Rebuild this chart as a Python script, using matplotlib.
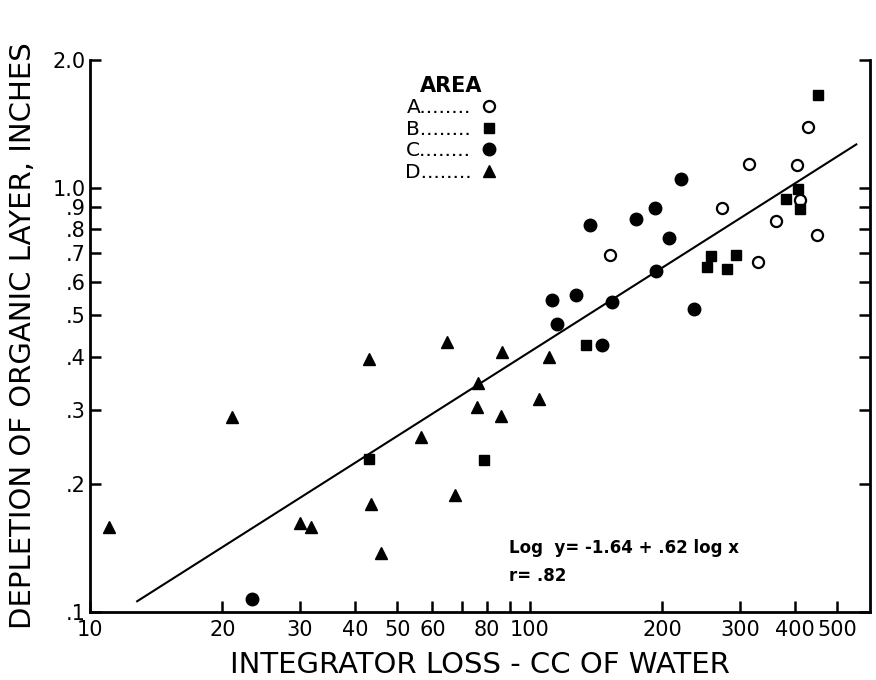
import matplotlib
matplotlib.use('Agg')
import matplotlib.pyplot as plt
from matplotlib.ticker import FixedLocator, FixedFormatter, NullLocator

# area A (open circles)
a_x = [428, 315, 405, 274, 411, 362, 449, 152, 330]
a_y = [1.39, 1.14, 1.13, 0.895, 0.937, 0.836, 0.774, 0.694, 0.668]
# area B (squares)
b_x = [451, 407, 383, 412, 258, 252, 294, 281, 134, 43.1, 78.8]
b_y = [1.65, 0.993, 0.943, 0.890, 0.690, 0.652, 0.694, 0.643, 0.425, 0.229, 0.228]
# area C (filled circles)
c_x = [220, 192, 174, 137, 207, 193, 112, 127, 154, 115, 236, 146, 23.4]
c_y = [1.046, 0.895, 0.843, 0.817, 0.762, 0.637, 0.544, 0.560, 0.537, 0.478, 0.519, 0.425, 0.1075]
# area D (triangles)
d_x = [64.9, 43.1, 86.4, 110.5, 76.3, 104.6, 75.9, 85.9, 21.0, 56.6, 67.5, 43.5, 30.0, 31.8, 11.07, 45.9]
d_y = [0.433, 0.395, 0.411, 0.398, 0.347, 0.317, 0.305, 0.289, 0.288, 0.259, 0.189, 0.180, 0.162, 0.159, 0.159, 0.138]

# fitted line as drawn
line_x = [12.8, 552]
line_y = [0.106, 1.265]

xticks = [10, 20, 30, 40, 50, 60, 70, 80, 90, 100, 200, 300, 400, 500]
xlabels = ['10', '20', '30', '40', '50', '60', '', '80', '', '100', '200', '300', '400', '500']
yticks = [0.1, 0.2, 0.3, 0.4, 0.5, 0.6, 0.7, 0.8, 0.9, 1.0, 2.0]
ylabels = ['.1', '.2', '.3', '.4', '.5', '.6', '.7', '.8', '.9', '1.0', '2.0']

fig = plt.figure(figsize=(8.76, 6.8), dpi=100)
ax = fig.add_axes([90 / 876, 68 / 680, 780 / 876, 552 / 680])

ax.plot(line_x, line_y, color='black', lw=1.5, zorder=2)
ax.plot(a_x, a_y, 'o', ls='none', mfc='white', mec='black', mew=1.6, ms=8, label='A........', zorder=3)
ax.plot(b_x, b_y, 's', ls='none', color='black', ms=7.5, label='B........', zorder=3)
ax.plot(c_x, c_y, 'o', ls='none', color='black', ms=9, label='C........', zorder=3)
ax.plot(d_x, d_y, '^', ls='none', color='black', ms=8, label='D........', zorder=3)

ax.set_xscale('log')
ax.set_yscale('log')
ax.set_xlim(10, 593)
ax.set_ylim(0.1, 2.0)

ax.xaxis.set_major_locator(FixedLocator(xticks))
ax.xaxis.set_major_formatter(FixedFormatter(xlabels))
ax.xaxis.set_minor_locator(NullLocator())
ax.yaxis.set_major_locator(FixedLocator(yticks))
ax.yaxis.set_major_formatter(FixedFormatter(ylabels))
ax.yaxis.set_minor_locator(NullLocator())

ax.spines['top'].set_visible(False)
for s in ['left', 'right', 'bottom']:
    ax.spines[s].set_linewidth(2)
ax.tick_params(axis='x', direction='in', length=8, width=1.8, top=False, pad=6,
               labelsize=15)
ax.tick_params(axis='y', direction='in', length=8, width=1.8, right=True, pad=3,
               labelsize=15)

ax.set_xlabel('INTEGRATOR LOSS - CC OF WATER', fontsize=21, family='DejaVu Sans', labelpad=8)
ax.set_ylabel('DEPLETION OF ORGANIC LAYER, INCHES', fontsize=21, family='DejaVu Sans', labelpad=11)

leg = ax.legend(title='AREA', loc='upper center', bbox_to_anchor=(451 / 876, 1 - 66 / 680),
                bbox_transform=fig.transFigure, markerfirst=False, frameon=False,
                handlelength=0.8, handletextpad=0.5, labelspacing=0.12, borderpad=0,
                prop={'size': 14.5})
leg.get_title().set_fontsize(15)
leg.get_title().set_weight('bold')

ax.text(0.537, 0.116, 'Log  y= -1.64 + .62 log x', transform=ax.transAxes, fontsize=12,
        weight='bold', ha='left', va='center')
ax.text(0.537, 0.065, 'r= .82', transform=ax.transAxes, fontsize=12,
        weight='bold', ha='left', va='center')

fig.savefig('out.png', dpi=100)
